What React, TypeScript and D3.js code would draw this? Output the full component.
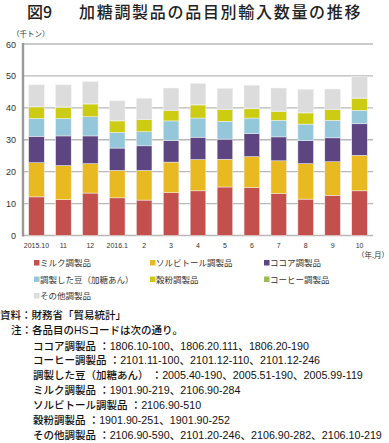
import React from "react";
import * as d3 from "d3";

const categories = ["2015.10", "11", "12", "2016.1", "2", "3", "4", "5", "6", "7", "8", "9", "10"];
const seriesNames = ["ミルク調製品", "ソルビトール調製品", "ココア調製品", "調製した豆（加糖あん）", "穀粉調製品", "コーヒー調製品", "その他調製品"];
const milk = [12.1, 11.2, 13.3, 11.8, 11.1, 13.4, 14.0, 15.2, 15.0, 13.1, 11.4, 12.6, 14.0];
const sorbitol = [10.7, 10.7, 9.2, 8.6, 9.3, 9.6, 9.8, 8.7, 9.7, 10.3, 11.1, 10.5, 11.1];
const cocoa = [8.3, 9.3, 8.7, 7.0, 7.7, 6.8, 7.0, 6.3, 7.2, 7.5, 7.2, 7.5, 9.9];
const beans = [5.6, 5.5, 6.0, 4.9, 4.4, 6.1, 6.0, 5.6, 4.9, 5.2, 5.2, 5.5, 4.2];
const flour = [3.6, 3.5, 4.0, 3.6, 3.8, 3.2, 4.1, 3.6, 2.9, 2.8, 3.5, 3.3, 3.8];
const coffee = [0.1, 0.1, 0.1, 0.1, 0.1, 0.1, 0.1, 0.1, 0.1, 0.1, 0.1, 0.1, 0.1];
const other = [6.8, 6.9, 6.9, 6.2, 6.6, 7.0, 6.6, 6.6, 7.3, 7.2, 7.3, 6.4, 6.8];
const yTicks = [0, 10, 20, 30, 40, 50, 60];
const colors = ["#c4504e", "#e9b921", "#5c4580", "#95c7da", "#cccc12", "#9bbb59", "#dcdcdc"];
const noteLabels = ["ココア調製品", "コーヒー調製品", "調製した豆（加糖あん）", "ミルク調製品", "ソルビトール調製品", "穀粉調製品", "その他調製品"];
const noteCodes = [
  "1806.10-100、1806.20.111、1806.20-190",
  "2101.11-100、2101.12-110、2101.12-246",
  "2005.40-190、2005.51-190、2005.99-119",
  "1901.90-219、2106.90-284",
  "2106.90-510",
  "1901.90-251、1901.90-252",
  "2106.90-590、2101.20-246、2106.90-282、2106.10-219",
];

const FONT = "'Noto Sans CJK JP', 'Noto Sans', sans-serif";
const MIX = "'Liberation Sans', 'Noto Sans CJK JP', sans-serif";

export default function App() {
  const W = 389, H = 443;
  const left = 23, right = 373, top = 44, bottom = 235.5;
  const allSeries = [milk, sorbitol, cocoa, beans, flour, coffee, other];
  const rows = categories.map((c, i) => {
    const r: any = { cat: c };
    allSeries.forEach((s, k) => (r["s" + k] = s[i]));
    return r;
  });
  const keys = allSeries.map((_, k) => "s" + k);
  const stacked = d3.stack().keys(keys)(rows);
  const x = d3.scaleBand().domain(categories).range([left, right]).paddingInner(0.42).paddingOuter(0.21);
  const y = d3.scaleLinear().domain([0, 60]).range([bottom, top]);

  const legendCols = [34, 150, 264];
  const legendRows = [263, 279.5, 296];

  return (
    <svg width={W} height={H} style={{ position: "absolute", left: 0, top: 0, background: "#fff" }} fontFamily={FONT}>
      <text x={27} y={18} fontSize={16} fontWeight={500} fill="#222">図9</text>
      <text x={79} y={18} fontSize={16} fontWeight={500} letterSpacing={1.7} fill="#222">加糖調製品の品目別輸入数量の推移</text>
      <text x={12} y={37} fontSize={7.5} fill="#333">（千トン）</text>

      {yTicks.map((t) => (
        <g key={t}>
          <line x1={left} x2={right} y1={y(t)} y2={y(t)} stroke="#b8b8b8" strokeWidth={1.3} />
          <text x={16} y={y(t) + 3.5} fontSize={9} textAnchor="end" fill="#333" fontFamily={MIX}>{t}</text>
        </g>
      ))}

      {stacked.map((layer, k) => (
        <g key={k} fill={colors[k]}>
          {layer.map((d, i) => (
            <rect key={i} x={x(categories[i])} width={x.bandwidth()} y={y(d[1])} height={Math.max(0, y(d[0]) - y(d[1]))}
              stroke="#f2f2f2" strokeWidth={0.5} />
          ))}
        </g>
      ))}

      <line x1={left} x2={left} y1={top - 1} y2={bottom + 1} stroke="#999" strokeWidth={2.4} />

      {categories.map((c) => (
        <text key={c} x={(x(c) as number) + x.bandwidth() / 2} y={247.5} fontSize={7} textAnchor="middle" fill="#333" fontFamily={MIX}>{c}</text>
      ))}
      <text x={357} y={258} fontSize={7.5} fill="#333">（年.月）</text>

      {seriesNames.map((n, k) => {
        const cx = legendCols[k % 3];
        const cy = legendRows[Math.floor(k / 3)];
        return (
          <g key={n}>
            <rect x={cx} y={cy - 3} width={5.5} height={5.5} fill={colors[k]} />
            <text x={cx + 6} y={cy + 3} fontSize={8.5} fill="#333">{n}</text>
          </g>
        );
      })}

      <text x={0} y={319} fontSize={10.5} fontWeight={500} fill="#111">資料：財務省「貿易統計」</text>
      <text x={11} y={334} fontSize={10.5} fontWeight={500} fill="#111">注：各品目の<tspan fontFamily={MIX}>HS</tspan>コードは次の通り。</text>
      {noteLabels.map((n, i) => (
        <text key={i} x={33} y={349.5 + i * 14.85} fontSize={10.5} fontWeight={500} fill="#111">
          {n}
          <tspan fontFamily={MIX} fontSize={10.7}>{" ：" + noteCodes[i]}</tspan>
        </text>
      ))}
    </svg>
  );
}
